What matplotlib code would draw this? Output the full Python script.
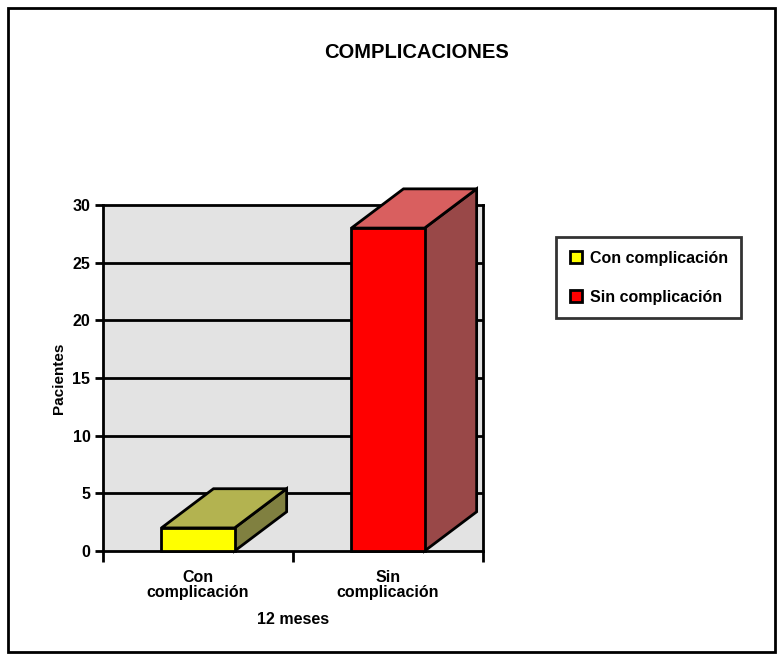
import matplotlib.pyplot as plt
from matplotlib.patches import Polygon, Rectangle, Patch

plt.rcParams['font.family'] = ['Liberation Sans', 'DejaVu Sans']
plt.rcParams['font.weight'] = 'bold'
plt.rcParams['axes.labelweight'] = 'bold'

# Datos
categorias = ["Con\ncomplicación", "Sin\ncomplicación"]
series = ["Con complicación", "Sin complicación"]
pacientes = [2, 28]

# Colores de cada barra: frente, tapa, lateral
frente = ["#FFFF00", "#FF0000"]
tapa = ["#B3B350", "#D95F5F"]
lateral = ["#808040", "#994848"]

fig = plt.figure(figsize=(7.82, 6.6), dpi=100)
ax = fig.add_axes([103 / 782, 1 - 551 / 660, 380 / 782, 346 / 660])
ax.set_facecolor("#E3E3E3")
ax.set_xlim(0, 2)
ax.set_ylim(0, 30)

# Líneas de la cuadrícula
for y in range(5, 30, 5):
    ax.axhline(y, color="black", lw=2, zorder=1)

# Barras en pseudo-3D
ancho = 0.385
dx, dy = 0.274, 3.4
for i, v in enumerate(pacientes):
    x0 = i + 0.5 - ancho / 2
    x1 = x0 + ancho
    cara_tapa = Polygon([(x0, v), (x1, v), (x1 + dx, v + dy), (x0 + dx, v + dy)],
                        closed=True, fc=tapa[i], ec="black", lw=2, zorder=4, clip_on=False)
    cara_lat = Polygon([(x1, 0), (x1 + dx, dy), (x1 + dx, v + dy), (x1, v)],
                       closed=True, fc=lateral[i], ec="black", lw=2, zorder=4, clip_on=False)
    cara_frente = Rectangle((x0, 0), ancho, v, fc=frente[i], ec="black", lw=2,
                            zorder=5, clip_on=False)
    ax.add_patch(cara_lat)
    ax.add_patch(cara_tapa)
    ax.add_patch(cara_frente)

for s in ax.spines.values():
    s.set_linewidth(2)
    s.set_color("black")

ax.set_yticks(range(0, 31, 5))
ax.tick_params(axis="y", length=6, width=2, labelsize=11.5, pad=3)
ax.set_xticks([0, 1, 2])
ax.set_xticklabels([])
ax.tick_params(axis="x", which="major", length=8, width=2)
ax.set_xticks([0.5, 1.5], minor=True)
ax.set_xticklabels(categorias, minor=True, fontsize=11.5, linespacing=1.0)
ax.tick_params(axis="x", which="minor", length=0, pad=14)

ax.set_ylabel("Pacientes", fontsize=11, labelpad=5)
ax.set_xlabel("12 meses", fontsize=11.5, labelpad=8)
fig.text(416 / 782, 1 - 53 / 660, "COMPLICACIONES", ha="center", va="center",
         fontsize=14.5, fontweight="bold")

# Leyenda
handles = [Patch(fc=frente[i], ec="black", lw=2) for i in range(2)]
leg = fig.legend(handles, series, loc="upper left",
                 bbox_to_anchor=(556 / 782, 1 - 237 / 660), fontsize=11.5,
                 frameon=True, fancybox=False, edgecolor="black",
                 handlelength=0.75, handleheight=0.75, handletextpad=0.5,
                 labelspacing=1.5, borderpad=0.85, borderaxespad=0)
leg.get_frame().set_linewidth(2)

# Marco exterior
fig.patches.append(Rectangle((8 / 782, 8 / 660), 767 / 782, 644 / 660,
                             transform=fig.transFigure, fill=False,
                             ec="black", lw=2))

fig.savefig("out.png", dpi=100)
